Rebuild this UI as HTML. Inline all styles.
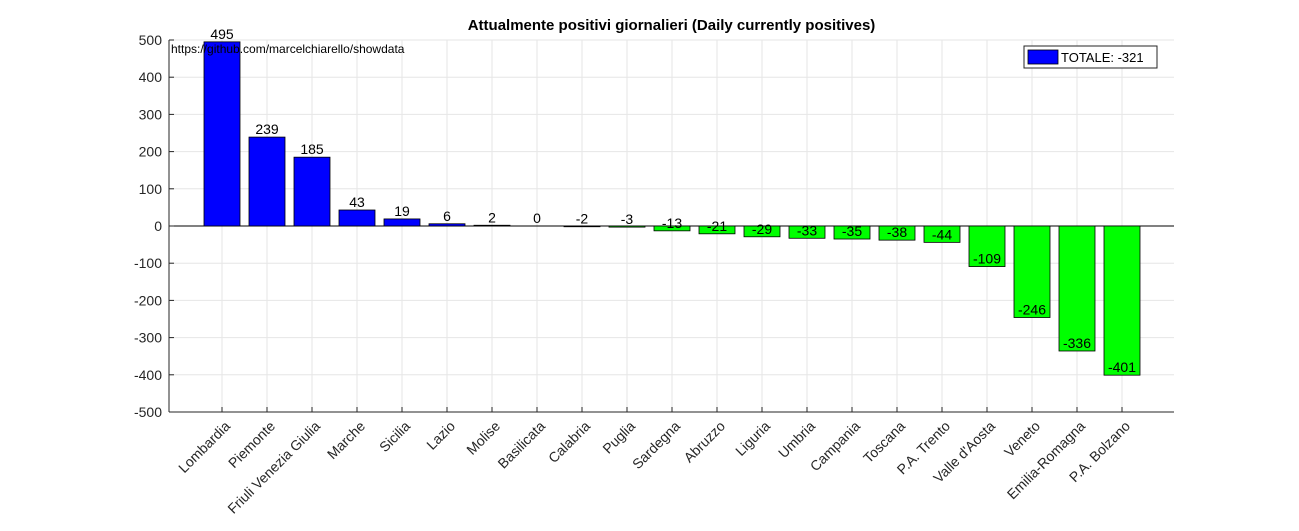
<!DOCTYPE html>
<html><head><meta charset="utf-8"><style>
body{margin:0;background:#fff;}
svg{display:block;font-family:"Liberation Sans",Arial,sans-serif;}
</style></head><body>
<svg id="chart" width="1299" height="531"></svg>
<script>
const categories=["Lombardia","Piemonte","Friuli Venezia Giulia","Marche","Sicilia","Lazio","Molise","Basilicata","Calabria","Puglia","Sardegna","Abruzzo","Liguria","Umbria","Campania","Toscana","P.A. Trento","Valle d'Aosta","Veneto","Emilia-Romagna","P.A. Bolzano"];
const values=[495,239,185,43,19,6,2,0,-2,-3,-13,-21,-29,-33,-35,-38,-44,-109,-246,-336,-401];
const yTicks=[500,400,300,200,100,0,-100,-200,-300,-400,-500];
const totalLabel="TOTALE: -321";
const NS="http://www.w3.org/2000/svg";
const svg=document.getElementById('chart');
const L=169,R=1174,T=40,B=412;
const yMin=-500,yMax=500;
function y(v){return B-(v-yMin)/(yMax-yMin)*(B-T);}
function x(i){return 222+i*45;}
const bw=36;
function mk(tag,attrs,parent){const e=document.createElementNS(NS,tag);for(const k in attrs)e.setAttribute(k,attrs[k]);(parent||svg).appendChild(e);return e;}
const grid=mk('g',{});


yTicks.forEach(v=>{mk('line',{x1:L,x2:R,y1:y(v),y2:y(v),stroke:'#e6e6e6','stroke-width':1},grid);});
categories.forEach((c,i)=>{mk('line',{x1:x(i),x2:x(i),y1:T,y2:B,stroke:'#e6e6e6','stroke-width':1},grid);});
mk('line',{x1:L,x2:R,y1:y(0),y2:y(0),stroke:'#000','stroke-width':1});
values.forEach((v,i)=>{
  const r=mk('rect',{x:x(i)-bw/2,y:Math.min(y(v),y(0)),width:bw,height:Math.abs(y(v)-y(0)),fill:v>=0?'#0000ff':'#00ff00',stroke:'#000','stroke-width':0.8});
  
  
  const t=mk('text',{x:x(i),y:y(v)-3,'text-anchor':'middle','font-size':14,fill:'#000'});
  t.textContent=v;
  
  
});
mk('line',{x1:L,x2:L,y1:T,y2:B,stroke:'#262626','stroke-width':1});
mk('line',{x1:L,x2:R,y1:B,y2:B,stroke:'#262626','stroke-width':1});
yTicks.forEach(v=>{
  mk('line',{x1:L,x2:L+5,y1:y(v),y2:y(v),stroke:'#262626'});
  const t=mk('text',{x:L-7,y:y(v)+5,'text-anchor':'end','font-size':14,fill:'#262626'});
  t.textContent=v;
  
  
});
categories.forEach((c,i)=>{
  mk('line',{x1:x(i),x2:x(i),y1:B,y2:B-5,stroke:'#262626'});
  const ax=x(i)+9, ay=B+15;
  const t=mk('text',{x:ax,y:ay,'text-anchor':'end','font-size':14,fill:'#262626',transform:`rotate(-45 ${ax} ${ay})`});
  t.textContent=c;
  
  
});
const title=mk('text',{x:(L+R)/2,y:30,'text-anchor':'middle','font-size':15,'font-weight':'bold',fill:'#000'});
title.textContent="Attualmente positivi giornalieri (Daily currently positives)";


const src=mk('text',{x:171,y:53,'font-size':12,fill:'#000'});
src.textContent="https://github.com/marcelchiarello/showdata";


const lg=mk('g',{});


mk('rect',{x:1024,y:46,width:133,height:22,fill:'#fff',stroke:'#262626','stroke-width':1},lg);
mk('rect',{x:1028,y:50,width:30,height:14,fill:'#0000ff',stroke:'#000','stroke-width':0.8},lg);
const lt=mk('text',{x:1061,y:62,'font-size':13,fill:'#000'},lg);
lt.textContent=totalLabel;
</script>
</body></html>
